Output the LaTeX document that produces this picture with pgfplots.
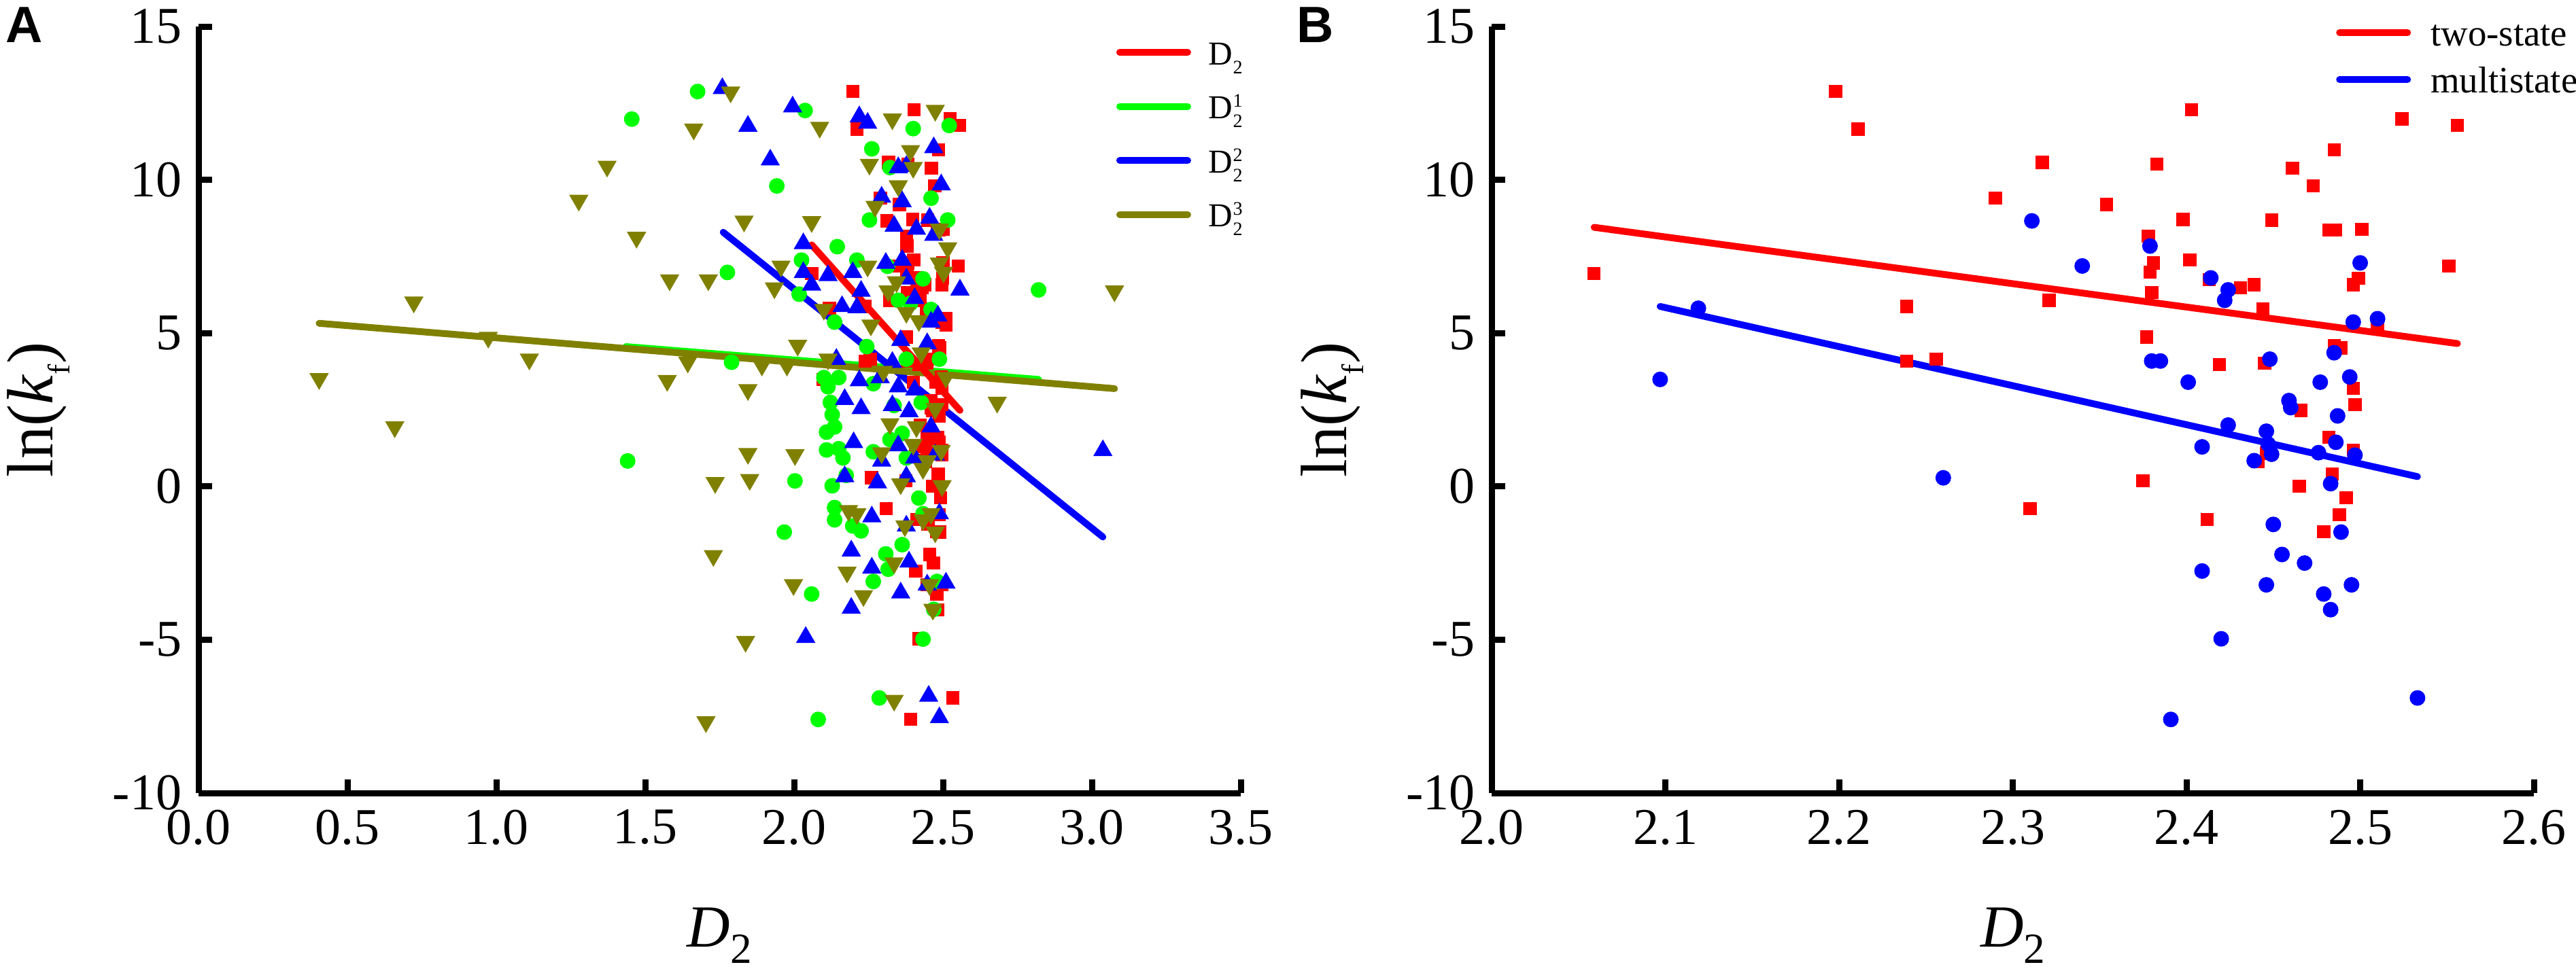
\documentclass[border=0pt]{standalone}
\usepackage{fontspec}
\setmainfont{Liberation Serif}
\newfontfamily\panelfont{Liberation Sans}
\usepackage{amsmath}
\usepackage{pgfplots}
\pgfplotsset{compat=1.18}

\definecolor{cR}{RGB}{255,0,0}
\definecolor{cG}{RGB}{0,255,0}
\definecolor{cB}{RGB}{0,0,255}
\definecolor{cO}{RGB}{128,128,0}

\newcommand{\scr}[1]{{\fontsize{4}{4}\selectfont #1}}
\newcommand{\Dsub}{D\raisebox{-0.65mm}{\scr{2}}}
\newcommand{\Dsubsup}[1]{D\makebox[0pt][l]{\raisebox{-0.65mm}{\scr{2}}}\raisebox{0.85mm}{\scr{#1}}}

\pgfplotsset{
  myaxis/.style={
    scale only axis, width=76.65mm, height=56.4mm,
    axis lines=left, axis line style={-, line width=0.45mm},
    tick align=inside, major tick length=1mm,
    every tick/.style={black, line width=0.45mm},
    ymin=-10, ymax=15, ytick={-10,-5,0,5,10,15},
    tick label style={font=\fontsize{10.8}{12}\selectfont},
    /pgf/number format/assume math mode=true,
    xticklabel style={/pgf/number format/.cd, fixed, fixed zerofill, precision=1},
    xlabel style={font=\fontsize{12.5}{14}\selectfont, at={(axis description cs:0.5,-0.2004)}, anchor=base},
    ylabel style={font=\fontsize{13.7}{15}\selectfont, at={(axis description cs:-0.1396,0.5)}, anchor=base},
    xlabel={\textit{D}\raisebox{-1.2mm}{\fontsize{9}{9}\selectfont 2}},
    ylabel={ln(\textit{k}\raisebox{-1.25mm}{\fontsize{6.5}{7}\selectfont f})},
    legend cell align=left,
  },
  sq/.style={only marks, color=cR, mark=square*, mark size=0.45mm, mark options={solid, line width=0.2pt}, forget plot},
  ci/.style={only marks, color=#1, mark=*, mark size=0.54mm, mark options={solid, line width=0.2pt}, forget plot},
  tu/.style={only marks, color=cB, mark=triangle*, mark size=0.75mm, mark options={solid, line width=0.2pt}, forget plot},
  td/.style={only marks, color=cO, mark=triangle*, mark size=0.75mm, mark options={solid, line width=0.2pt, rotate=180}, forget plot},
  fit/.style={color=#1, line width=0.5mm, line cap=round, forget plot},
}

\pgfplotstableread{
x y
2.059 6.94
2.198 12.88
2.211 11.65
2.239 5.87
2.239 4.09
2.256 4.15
2.290 9.40
2.310 -0.72
2.317 10.57
2.321 6.07
2.354 9.19
2.375 0.18
2.378 8.16
2.379 6.99
2.381 7.29
2.380 6.32
2.377 4.87
2.383 10.51
2.398 8.71
2.402 7.39
2.403 12.29
2.412 -1.08
2.413 6.75
2.419 3.97
2.431 6.48
2.439 6.58
2.444 5.78
2.445 4.02
2.446 1.08
2.441 0.80
2.449 8.68
2.461 10.38
2.465 0.01
2.466 2.48
2.473 9.80
2.479 -1.48
2.482 1.60
2.482 8.36
2.484 0.40
2.485 10.98
2.486 8.36
2.485 4.59
2.489 4.52
2.488 -0.92
2.492 -0.37
2.496 6.58
2.496 3.20
2.497 2.67
2.496 1.18
2.499 6.79
2.501 8.38
2.510 5.26
2.524 11.99
2.551 7.19
2.556 11.78
}\twostate

\pgfplotstableread{
x y
2.097 3.49
2.119 5.81
2.260 0.28
2.311 8.66
2.340 7.19
2.379 7.84
2.380 4.09
2.385 4.09
2.391 -7.60
2.401 3.40
2.409 1.29
2.409 -2.76
2.414 6.80
2.420 -4.97
2.422 6.07
2.424 6.41
2.424 2.00
2.439 0.84
2.446 -3.21
2.446 1.80
2.447 1.38
2.448 4.15
2.449 1.05
2.450 -1.24
2.455 -2.22
2.459 2.80
2.460 2.57
2.468 -2.50
2.476 1.10
2.477 3.40
2.479 -3.51
2.483 0.09
2.483 -4.02
2.485 4.36
2.486 1.44
2.487 2.30
2.489 -1.49
2.494 3.57
2.495 -3.21
2.496 5.36
2.497 1.02
2.500 7.29
2.510 5.47
2.533 -6.90
}\multistate

\pgfplotstableread{
x y
1.455 11.98
1.676 12.88
2.037 12.26
1.942 9.80
1.776 6.98
1.441 0.83
1.790 4.05
2.003 0.18
1.967 -1.49
2.059 -3.51
2.081 -7.60
2.821 6.41
2.286 -6.90
2.433 -4.98
2.145 7.82
2.025 7.38
2.017 6.27
2.261 11.01
2.400 11.67
2.521 11.77
2.460 9.40
2.253 8.69
2.516 8.69
2.322 10.40
2.100 3.55
2.114 3.25
2.150 3.55
2.122 2.74
2.128 2.34
2.109 1.77
2.136 1.94
2.109 1.19
2.150 1.23
2.164 0.93
2.128 0.02
2.136 -0.69
2.136 -1.09
2.197 -1.29
2.225 -1.45
2.266 -3.10
2.308 -2.20
2.316 -2.70
2.175 0.36
2.136 5.36
2.350 6.07
2.391 5.97
2.460 5.77
2.488 4.15
2.427 2.74
2.419 -0.38
2.433 -0.89
2.363 1.73
2.322 1.53
2.469 -4.01
2.480 -3.10
2.363 -1.90
2.266 1.13
2.377 0.93
2.377 4.15
2.266 3.35
2.314 7.18
2.433 6.77
2.336 2.64
2.211 7.38
2.244 4.56
}\dA

\pgfplotstableread{
x y
1.759 12.98
1.845 11.75
1.995 12.38
1.920 10.65
2.031 7.92
2.219 12.06
2.247 11.85
2.469 11.05
2.494 9.84
2.377 10.44
2.350 10.40
2.294 9.44
2.363 9.29
2.336 8.49
2.411 8.39
2.469 8.19
2.455 8.75
2.197 6.98
2.114 6.88
2.031 6.98
2.059 6.57
2.225 6.37
2.308 7.28
2.363 7.38
2.377 6.77
2.405 6.13
2.557 6.41
2.161 5.87
2.211 5.83
2.483 5.56
2.460 5.36
2.358 4.76
2.447 4.66
2.142 4.15
2.330 4.05
2.219 3.45
2.289 3.55
2.350 3.25
2.405 3.15
2.170 2.84
2.225 2.54
2.330 2.64
2.386 2.44
2.460 1.94
2.200 1.43
2.294 0.83
2.350 1.33
2.405 0.93
2.474 1.03
2.170 0.32
2.280 0.12
2.377 0.32
2.261 -0.99
2.377 -1.29
2.488 -0.89
2.192 -2.10
2.261 -2.66
2.386 -2.46
2.510 -3.15
2.447 -3.21
2.192 -3.97
2.358 -3.47
2.039 -4.92
2.452 -6.84
2.488 -7.54
3.037 1.17
}\dB

\pgfplotstableread{
x y
0.405 3.51
0.659 1.94
0.723 6.01
0.973 4.86
1.111 4.15
1.277 9.33
1.372 10.44
1.471 8.12
1.582 6.73
1.574 3.45
1.643 4.05
1.663 11.65
1.712 6.73
1.735 0.12
1.729 -2.26
1.704 -7.68
1.787 12.86
1.832 8.65
1.845 3.15
1.845 1.07
1.851 0.22
1.837 -5.06
1.892 3.95
1.934 6.47
1.956 7.18
1.976 3.95
1.998 -3.21
2.003 1.03
2.012 4.60
2.059 8.63
2.086 11.71
2.100 5.77
2.114 4.15
2.178 -2.80
2.183 -0.79
2.211 -0.89
2.233 -3.57
2.247 7.18
2.253 10.50
2.258 5.26
2.272 9.13
2.294 1.09
2.316 6.37
2.330 11.98
2.336 -6.98
2.336 -2.50
2.344 6.67
2.350 9.80
2.358 0.08
2.372 -1.29
2.377 5.67
2.391 10.95
2.400 10.40
2.400 1.37
2.411 1.94
2.419 5.40
2.433 0.58
2.447 0.83
2.460 -0.89
2.466 -4.01
2.474 12.26
2.474 2.54
2.488 8.39
2.488 7.28
2.494 1.17
2.497 0.02
2.474 -1.49
2.455 -3.21
2.516 7.78
2.502 6.98
2.510 3.55
2.427 4.35
2.300 3.75
2.682 2.74
3.076 6.37
2.433 -1.09
2.322 2.04
}\dC

\begin{document}
\begin{tikzpicture}
% ---------------- Panel A ----------------
\begin{axis}[myaxis, at={(14.6mm,12.9mm)}, anchor=south west,
  xmin=0, xmax=3.5, xtick={0,0.5,1,1.5,2,2.5,3,3.5},
  legend style={draw=none, fill=none, at={(axis description cs:0.8806,0.9787)}, anchor=north west,
    inner sep=0pt, outer sep=0pt, row sep=1.58mm, column sep=1.3mm,
    font=\fontsize{7}{8}\selectfont, nodes={inner sep=0pt, text height=1.6mm, text depth=0.8mm}},
  legend image code/.code={\draw[#1, line width=0.5mm, line cap=round] (0mm,0.5mm) -- (5mm,0.5mm);},
]
\addlegendimage{cR}
\addlegendentry{\Dsub}
\addlegendimage{cG}
\addlegendentry{\Dsubsup{1}}
\addlegendimage{cB}
\addlegendentry{\Dsubsup{2}}
\addlegendimage{cO}
\addlegendentry{\Dsubsup{3}}
\addplot[sq] table {\twostate};
\addplot[sq] table {\multistate};
\addplot[ci=cG] table {\dA};
\addplot[tu] table {\dB};
\addplot[td] table {\dC};
\addplot[fit=cG] coordinates {(1.435,4.56) (2.821,3.49)};
\addplot[fit=cB] coordinates {(1.762,8.29) (3.037,-1.65)};
\addplot[fit=cO] coordinates {(0.405,5.32) (3.076,3.19)};
\addplot[fit=cR] coordinates {(2.059,7.88) (2.557,2.48)};
\end{axis}
% ---------------- Panel B ----------------
\begin{axis}[myaxis, at={(109.7mm,12.9mm)}, anchor=south west,
  xmin=2.0, xmax=2.6, xtick={2.0,2.1,2.2,2.3,2.4,2.5,2.6},
  legend style={draw=none, fill=none, at={(axis description cs:0.8103,1.0035)}, anchor=north west,
    inner sep=0pt, outer sep=0pt, row sep=1.35mm, column sep=1.45mm,
    font=\fontsize{7.8}{9}\selectfont, nodes={inner sep=0pt, text height=1.6mm, text depth=0.5mm}},
  legend image code/.code={\draw[#1, line width=0.5mm, line cap=round] (0mm,0.4mm) -- (5mm,0.4mm);},
]
\addlegendimage{cR}
\addlegendentry{two-state}
\addlegendimage{cB}
\addlegendentry{multistate}
\addplot[sq] table {\twostate};
\addplot[ci=cB] table {\multistate};
\addplot[fit=cR] coordinates {(2.059,8.45) (2.556,4.66)};
\addplot[fit=cB] coordinates {(2.097,5.87) (2.533,0.32)};
\end{axis}
\node[anchor=north west, inner sep=0pt, font=\panelfont\bfseries\fontsize{10.7}{12}\selectfont] at (0.35mm,70.8mm) {A};
\node[anchor=north west, inner sep=0pt, font=\panelfont\bfseries\fontsize{10.7}{12}\selectfont] at (95.3mm,70.8mm) {B};
\pgfresetboundingbox
\path[use as bounding box] (0,0) rectangle (189.45mm,71.25mm);
\end{tikzpicture}
\end{document}
